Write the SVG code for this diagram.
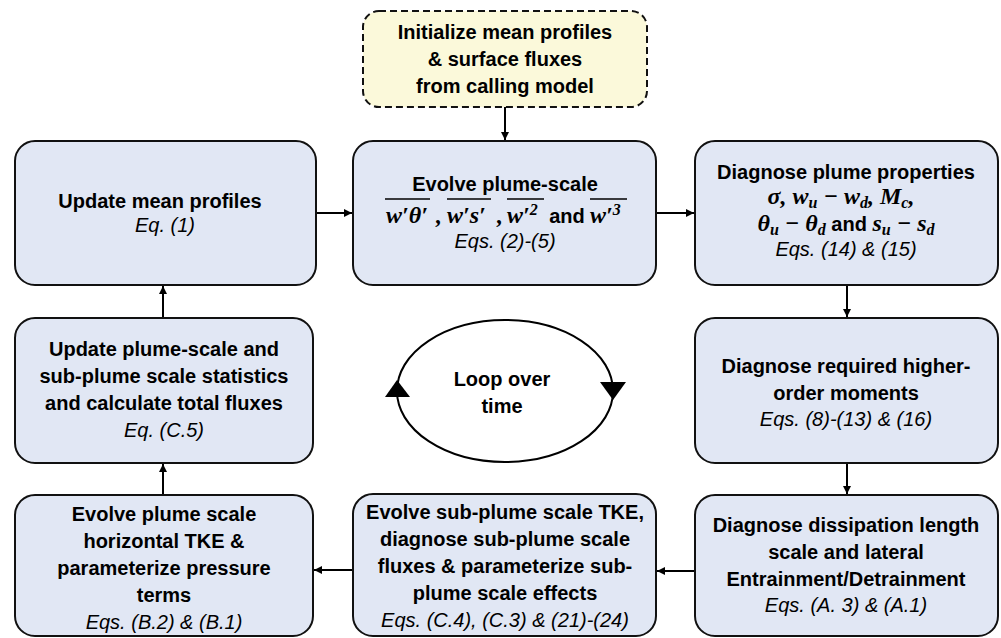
<svg xmlns="http://www.w3.org/2000/svg" width="1001" height="638" viewBox="0 0 1001 638">
<defs>
<style>
.box{fill:#E1E7F4;stroke:#111;stroke-width:2}
.init{fill:#FBF9DA;stroke:#111;stroke-width:2;stroke-dasharray:7 4}
.t{font-family:"Liberation Sans",Arial,sans-serif;font-weight:bold;font-size:20px;text-anchor:middle;fill:#000}
.e{font-family:"Liberation Sans",Arial,sans-serif;font-style:italic;font-size:20px;text-anchor:middle;fill:#000}
.m{font-family:"Liberation Serif","Times New Roman",serif;font-weight:bold;font-style:italic;font-size:24px;fill:#000}
.s{font-size:16px}
.c{stroke:#000;stroke-width:2;fill:none}
.ov{stroke:#000;stroke-width:1.5}
</style>
<marker id="ah" markerUnits="userSpaceOnUse" markerWidth="9" markerHeight="9" refX="8" refY="4" orient="auto">
<path d="M0,0 L8,4 L0,8 z" fill="#000"/>
</marker>
</defs>
<rect width="1001" height="638" fill="#fff"/>

<g id="connectors">
<line class="c" x1="505" y1="107" x2="505" y2="140" marker-end="url(#ah)"/>
<line class="c" x1="316" y1="213" x2="352" y2="213" marker-end="url(#ah)"/>
<line class="c" x1="656" y1="213" x2="694" y2="213" marker-end="url(#ah)"/>
<line class="c" x1="847" y1="285" x2="847" y2="317" marker-end="url(#ah)"/>
<line class="c" x1="847" y1="463" x2="847" y2="494" marker-end="url(#ah)"/>
<line class="c" x1="695" y1="571" x2="657" y2="571" marker-end="url(#ah)"/>
<line class="c" x1="353" y1="570" x2="314" y2="570" marker-end="url(#ah)"/>
<line class="c" x1="163" y1="495" x2="163" y2="464" marker-end="url(#ah)"/>
<line class="c" x1="163" y1="318" x2="163" y2="286" marker-end="url(#ah)"/>
</g>

<g id="init">
<rect class="init" x="363" y="11" width="284" height="96" rx="16"/>
<text class="t" x="505" y="39">Initialize mean profiles</text>
<text class="t" x="505" y="66">&amp; surface fluxes</text>
<text class="t" x="505" y="93">from calling model</text>
</g>

<g id="update-mean">
<rect class="box" x="15" y="141" width="301" height="144" rx="20"/>
<text class="t" x="160" y="208">Update mean profiles</text>
<text class="e" x="165" y="232">Eq. (1)</text>
</g>

<g id="evolve-plume">
<rect class="box" x="353" y="141" width="303" height="144" rx="20"/>
<text class="t" x="505" y="191">Evolve plume-scale</text>
<text class="m" y="223"><tspan x="386">w′θ′</tspan><tspan x="436">,</tspan><tspan x="447">w′s′</tspan><tspan x="497">,</tspan><tspan x="507">w′</tspan><tspan class="s" dy="-8">2</tspan></text>
<text class="t" x="567" y="223">and</text>
<text class="m" y="223"><tspan x="590">w′</tspan><tspan class="s" dy="-8">3</tspan></text>
<line class="ov" x1="385" y1="199" x2="430" y2="199"/>
<line class="ov" x1="447" y1="199" x2="491" y2="199"/>
<line class="ov" x1="507" y1="199" x2="544" y2="199"/>
<line class="ov" x1="590" y1="199" x2="627" y2="199"/>
<text class="e" x="505" y="248">Eqs. (2)-(5)</text>
</g>

<g id="diagnose-plume">
<rect class="box" x="695" y="141" width="303" height="144" rx="20"/>
<text class="t" x="846" y="179">Diagnose plume properties</text>
<text class="m" x="841" y="204" text-anchor="middle">σ, w<tspan class="s" dy="4">u</tspan><tspan dy="-4"> − w</tspan><tspan class="s" dy="4">d</tspan><tspan dy="-4">, M</tspan><tspan class="s" dy="4">c</tspan><tspan dy="-4">,</tspan></text>
<text class="m" x="846" y="231" text-anchor="middle">θ<tspan class="s" dy="4">u</tspan><tspan dy="-4"> − θ</tspan><tspan class="s" dy="4">d</tspan><tspan dy="-4" font-family="Liberation Sans, Arial, sans-serif" font-style="normal" font-size="20px"> and </tspan>s<tspan class="s" dy="4">u</tspan><tspan dy="-4"> − s</tspan><tspan class="s" dy="4">d</tspan></text>
<text class="e" x="846" y="256">Eqs. (14) &amp; (15)</text>
</g>

<g id="higher-order">
<rect class="box" x="695" y="318" width="303" height="145" rx="20"/>
<text class="t" x="846" y="373">Diagnose required higher-</text>
<text class="t" x="846" y="400">order moments</text>
<text class="e" x="846" y="426">Eqs. (8)-(13) &amp; (16)</text>
</g>

<g id="dissipation">
<rect class="box" x="695" y="495" width="303" height="141" rx="20"/>
<text class="t" x="846" y="532">Diagnose dissipation length</text>
<text class="t" x="846" y="559">scale and lateral</text>
<text class="t" x="846" y="586">Entrainment/Detrainment</text>
<text class="e" x="846" y="612">Eqs. (A. 3) &amp; (A.1)</text>
</g>

<g id="sub-plume">
<rect class="box" x="353" y="494" width="303" height="142" rx="20"/>
<text class="t" x="505" y="519">Evolve sub-plume scale TKE,</text>
<text class="t" x="505" y="546">diagnose sub-plume scale</text>
<text class="t" x="505" y="573">fluxes &amp; parameterize sub-</text>
<text class="t" x="505" y="600">plume scale effects</text>
<text class="e" x="505" y="627">Eqs. (C.4), (C.3) &amp; (21)-(24)</text>
</g>

<g id="horizontal-tke">
<rect class="box" x="15" y="495" width="298" height="141" rx="20"/>
<text class="t" x="164" y="521">Evolve plume scale</text>
<text class="t" x="164" y="548">horizontal TKE &amp;</text>
<text class="t" x="164" y="575">parameterize pressure</text>
<text class="t" x="164" y="602">terms</text>
<text class="e" x="164" y="629">Eqs. (B.2) &amp; (B.1)</text>
</g>

<g id="update-plume">
<rect class="box" x="15" y="318" width="298" height="145" rx="20"/>
<text class="t" x="164" y="356">Update plume-scale and</text>
<text class="t" x="164" y="383">sub-plume scale statistics</text>
<text class="t" x="164" y="410">and calculate total fluxes</text>
<text class="e" x="164" y="437">Eq. (C.5)</text>
</g>

<g id="loop">
<ellipse cx="505" cy="391" rx="108" ry="71" fill="none" stroke="#000" stroke-width="2"/>
<polygon points="397,380 385,397 410,397" fill="#000"/>
<polygon points="613,400 600,382 626,382" fill="#000"/>
<text class="t" x="502" y="386">Loop over</text>
<text class="t" x="502" y="413">time</text>
</g>
</svg>
